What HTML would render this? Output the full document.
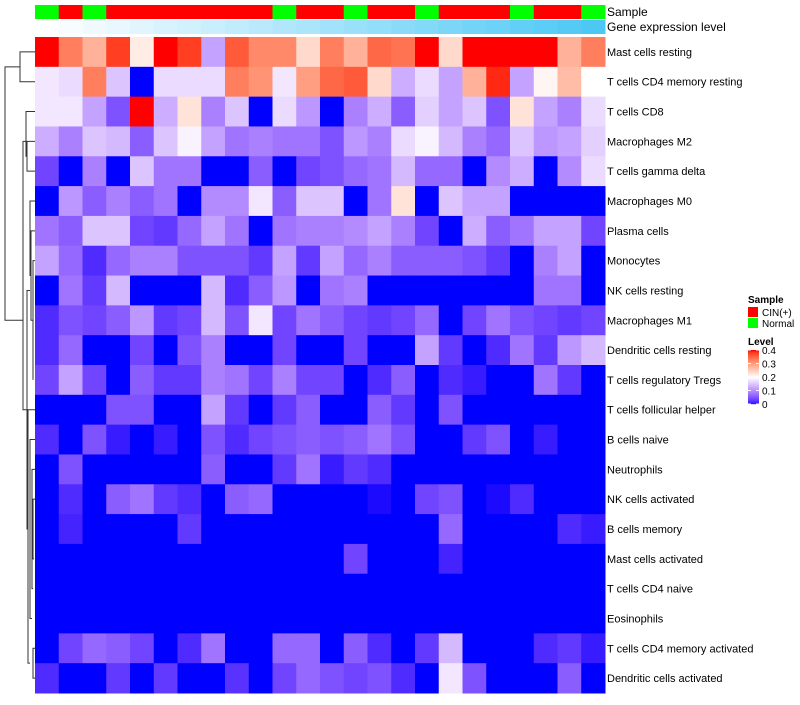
<!DOCTYPE html>
<html><head><meta charset="utf-8"><style>
body{margin:0;background:#fff;font-family:"Liberation Sans",sans-serif}
</style></head><body>
<svg id="chart" width="800" height="700" xmlns="http://www.w3.org/2000/svg" font-family="Liberation Sans, sans-serif">
<g id="dendro" stroke="#333" fill="none" stroke-width="1"></g>
<g id="cells"></g>
<g id="annot"></g>
<g id="labels" font-size="11" fill="#000"></g>
<text x="607" y="16" font-size="12">Sample</text>
<text x="607" y="31" font-size="12">Gene expression level</text>
<g font-size="10">
<text x="748" y="303" font-weight="bold">Sample</text>
<rect x="748" y="307" width="10" height="10" fill="#ff0000"/>
<text x="762" y="316">CIN(+)</text>
<rect x="748" y="318" width="10" height="10" fill="#00ff00"/>
<text x="762" y="327">Normal</text>
<text x="748" y="345" font-weight="bold">Level</text>
<g id="legbar"></g>
<g id="legticks"></g>
</g>
</svg>
<script>
const rowNames=["Mast cells resting","T cells CD4 memory resting","T cells CD8","Macrophages M2","T cells gamma delta","Macrophages M0","Plasma cells","Monocytes","NK cells resting","Macrophages M1","Dendritic cells resting","T cells regulatory  Tregs","T cells follicular helper","B cells naive","Neutrophils","NK cells activated","B cells memory","Mast cells activated","T cells CD4 naive","Eosinophils","T cells CD4 memory activated","Dendritic cells activated"];
const sampleGroups=["Normal","CIN","Normal","CIN","CIN","CIN","CIN","CIN","CIN","CIN","Normal","CIN","CIN","Normal","CIN","CIN","Normal","CIN","CIN","CIN","Normal","CIN","CIN","Normal"];
const geneLevel=[0,0.04,0.08,0.12,0.16,0.2,0.24,0.28,0.32,0.36,0.4,0.44,0.48,0.52,0.56,0.6,0.64,0.68,0.72,0.76,0.8,0.84,0.88,0.92];
const legendTicks=[0,0.1,0.2,0.3,0.4];
const v0=[.4,.33,.28,.38,.22,.4,.38,.12,.36,.32,.32,.24,.33,.28,.35,.34,.4,.24,.4,.4,.4,.4,.28,.33];
const v1=[.18,.17,.33,.15,0,.17,.17,.17,.33,.31,.18,.3,.35,.36,.24,.13,.17,.12,.28,.39,.12,.21,.27,.2];
const v2=[.18,.18,.12,.05,.4,.13,.23,.09,.15,0,.17,.11,0,.09,.13,.06,.16,.12,.15,.05,.23,.12,.09,.17];
const v3=[.13,.09,.15,.14,.06,.15,.19,.12,.08,.09,.08,.08,.05,.11,.09,.17,.19,.14,.09,.07,.15,.11,.12,.16];
const v4=[.04,0,.09,0,.15,.08,.08,0,0,.06,0,.04,.05,.07,.08,.14,.07,.07,0,.1,.13,0,.1,.17];
const v5=[0,.11,.06,.09,.06,.08,0,.1,.1,.18,.06,.15,.15,0,.08,.23,0,.15,.12,.12,0,0,0,0];
const v6=[.08,.06,.15,.15,.04,.03,.07,.12,.08,0,.08,.09,.09,.1,.12,.09,.04,0,.13,.06,.08,.12,.12,.04];
const v7=[.12,.07,.02,.07,.09,.09,.05,.05,.05,.03,.12,.03,.12,.07,.09,.06,.06,.06,.05,.03,0,.09,.12,0];
const v8=[0,.08,.03,.14,0,0,0,.14,.02,.06,.11,0,.08,.09,0,0,0,0,0,0,0,.08,.08,0];
const v9=[.02,.05,.04,.06,.11,.03,.04,.14,.05,.18,.04,.08,.06,.04,.03,.04,.07,0,.04,.08,.05,.04,.03,.04];
const v10=[.02,.07,0,0,.04,0,.05,.09,0,0,.04,0,0,.04,0,0,.12,.03,0,.02,.08,.03,.11,.14];
const v11=[.04,.12,.04,0,.06,.03,.03,.09,.08,.04,.09,.04,.04,0,.02,.06,0,.02,.01,0,0,.08,.03,0];
const v12=[0,0,0,.05,.05,0,0,.12,.03,0,.03,.06,0,0,.06,.03,0,.05,0,0,0,0,0,0];
const v13=[.02,0,.05,.01,0,.01,0,.05,.02,.04,.05,.06,.05,.06,.08,.05,0,0,.03,.05,0,.01,0,0];
const v14=[0,.05,0,0,0,0,0,.06,0,0,.03,.08,.01,.03,.02,0,0,0,0,0,0,0,0,0];
const v15=[0,.02,0,.06,.08,.03,.02,0,.06,.07,0,0,0,0,.003,0,.04,.05,0,.003,.02,0,0,0];
const v16=[0,.015,0,0,0,0,.03,0,0,0,0,0,0,0,0,0,0,.07,0,0,0,0,.02,.01];
const v17=[0,0,0,0,0,0,0,0,0,0,0,0,0,.04,0,0,0,.015,0,0,0,0,0,0];
const v18=[0,0,0,0,0,0,0,0,0,0,0,0,0,0,0,0,0,0,0,0,0,0,0,0];
const v19=[0,0,0,0,0,0,0,0,0,0,0,0,0,0,0,0,0,0,0,0,0,0,0,0];
const v20=[0,.04,.07,.06,.04,0,.02,.08,0,0,.07,.07,0,.06,.02,0,.03,.14,0,0,0,.02,.03,.01];
const v21=[.02,0,0,.03,0,.03,0,0,.025,0,.04,.07,.05,.04,.05,.02,0,.18,.05,0,0,0,.06,0];
const values=[v0,v1,v2,v3,v4,v5,v6,v7,v8,v9,v10,v11,v12,v13,v14,v15,v16,v17,v18,v19,v20,v21];

const NS="http://www.w3.org/2000/svg";
const X0=35,X1=605,Y0=37,Y1=693;
const nC=sampleGroups.length,nR=rowNames.length;
const cw=(X1-X0)/nC,rh=(Y1-Y0)/nR;
const xPos=i=>X0+i*cw, yPos=j=>Y0+j*rh;
function mix(a,b,t){return a.map((v,i)=>Math.round(v+(b[i]-v)*t));}
// Lab interpolation
function toLin(c){c/=255;return c<=0.04045?c/12.92:Math.pow((c+0.055)/1.055,2.4);}
function fromLin(c){c=c<=0.0031308?12.92*c:1.055*Math.pow(c,1/2.4)-0.055;return Math.max(0,Math.min(255,Math.round(c*255)));}
function rgb2lab(c){const [r,g,b]=c.map(toLin);
 let x=(0.4124*r+0.3576*g+0.1805*b)/0.95047,y=(0.2126*r+0.7152*g+0.0722*b),z=(0.0193*r+0.1192*g+0.9505*b)/1.08883;
 const f=t=>t>0.008856?Math.cbrt(t):7.787*t+16/116;x=f(x);y=f(y);z=f(z);
 return [116*y-16,500*(x-y),200*(y-z)];}
function lab2rgb(l){let y=(l[0]+16)/116,x=l[1]/500+y,z=y-l[2]/200;
 const fi=t=>t*t*t>0.008856?t*t*t:(t-16/116)/7.787;x=fi(x)*0.95047;y=fi(y);z=fi(z)*1.08883;
 const r=3.2406*x-1.5372*y-0.4986*z,g=-0.9689*x+1.8758*y+0.0415*z,b=0.0557*x-0.2040*y+1.0570*z;
 return [fromLin(r),fromLin(g),fromLin(b)];}
const LB=rgb2lab([0,0,255]),LW=rgb2lab([255,255,255]),LR=rgb2lab([255,0,0]);
function colorOf(v){v=Math.max(0,Math.min(0.4,v));
 const [a,b,t]=v<0.2?[LB,LW,v/0.2]:[LW,LR,(v-0.2)/0.2];
 return `rgb(${lab2rgb(a.map((x,i)=>x+(b[i]-x)*t))})`;}
function mk(tag,attrs,parent){const e=document.createElementNS(NS,tag);for(const k in attrs)e.setAttribute(k,attrs[k]);parent.appendChild(e);return e;}
const cells=document.getElementById('cells');
values.forEach((row,j)=>row.forEach((v,i)=>{
 const r=mk('rect',{x:xPos(i),y:yPos(j),width:cw+0.5,height:rh+0.5,fill:colorOf(v)},cells);
 
 
}));
const annot=document.getElementById('annot');
sampleGroups.forEach((g,i)=>{
 const r=mk('rect',{x:xPos(i),y:5,width:cw+0.5,height:14,fill:g==="CIN"?"#ff0000":"#00ff00"},annot);
 
 
});
geneLevel.forEach((g,i)=>{
 const c=mix([255,255,255],[77,200,245],g/0.92);
 const r=mk('rect',{x:xPos(i),y:20,width:cw+0.5,height:14,fill:`rgb(${c})`},annot);
 
 
});
const labels=document.getElementById('labels');
rowNames.forEach((n,j)=>{
 const t=mk('text',{x:607,y:yPos(j)+rh/2+4},labels);t.textContent=n;
 
 
});
// legend color bar
const LBY0=350,LBY1=404;
const lb=document.getElementById('legbar');
for(let k=0;k<54;k++){
 const v=0.4*(1-k/54);
 mk('rect',{x:748,y:LBY0+k,width:11,height:1.2,fill:colorOf(v)},lb);
}
const lt=document.getElementById('legticks');
legendTicks.forEach(v=>{
 const y=LBY1-v/0.4*(LBY1-LBY0);
 mk('line',{x1:748,x2:751,y1:y,y2:y,stroke:'#fff'},lt);
 mk('line',{x1:756,x2:759,y1:y,y2:y,stroke:'#fff'},lt);
 const t=mk('text',{x:762,y:y+4,'font-size':10},lt);t.textContent=String(v===0?0:v);
 
 
});
// dendrogram (approximate structure)
const d=document.getElementById('dendro');
const cy=j=>yPos(j)+rh/2;
function link(x,ya,yb,xa,xb){mk('path',{d:`M${xa},${ya}H${x}V${yb}H${xb}`},d);}
link(20,cy(0),cy(1),35,35);
link(26,cy(2),cy(3.5),35,27);
link(27,cy(3),cy(4),35,35);
link(30,cy(5),cy(7.5),35,31);
link(31,cy(6),cy(9),35,33);
link(33,cy(7),cy(11),35,33);
link(28,cy(12),cy(20.5),35,30);
link(30,cy(13),cy(19),35,32);
link(32,cy(14),cy(18),35,33);
link(33,cy(15),cy(17),35,34);
link(33,cy(20),cy(21),35,35);
link(27,cy(8),cy(16),30,28);
link(23,cy(3),cy(12),26,27);
link(5,cy(0.5),cy(9),20,23);
</script>
</body></html>
